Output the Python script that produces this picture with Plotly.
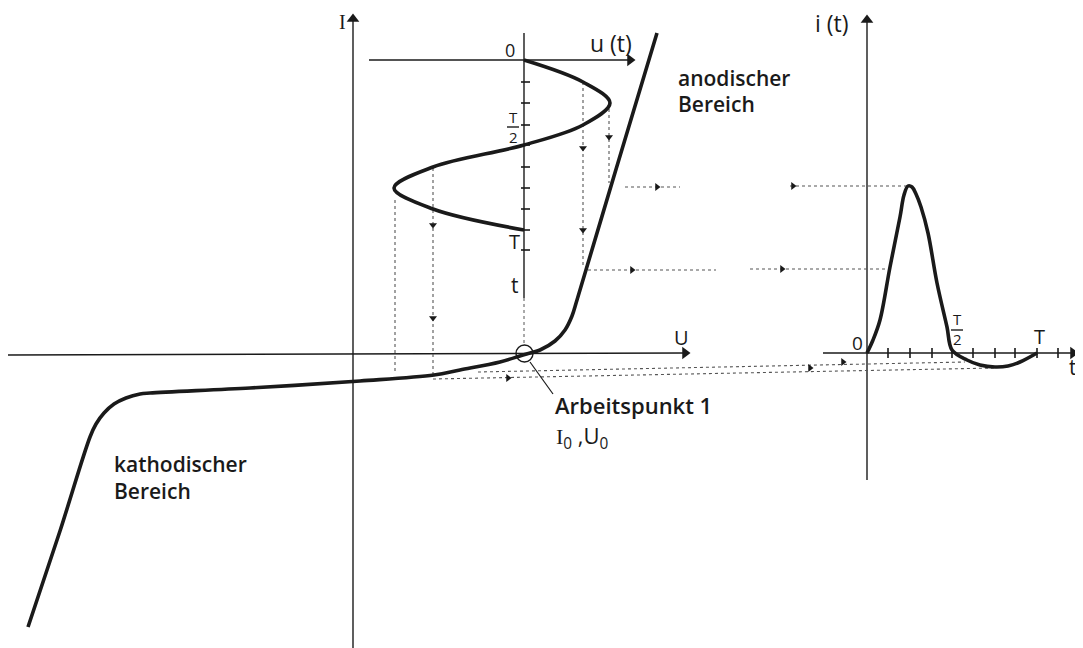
import plotly.graph_objects as go

# ---------------- data (drawing units = pixels) ----------
# current-voltage characteristic  I(U)
char_u = [28, 60, 90, 96, 104, 114, 126, 140, 150, 250, 360, 434, 460, 500, 523,
          540, 555, 565, 572, 577, 617, 657]
char_i = [627, 531, 437, 424, 413, 404, 398, 394, 393, 388, 381, 375, 370, 362, 355,
          350, 341, 330, 316, 300, 166, 33]

# applied voltage u(t) (drawn with time running downwards)
sine_u = [524, 583, 610, 583, 524, 433, 394, 433, 524]
sine_t = [60, 82, 103, 125, 145, 167, 188, 209, 230]

# resulting current i(t)
it_t = [867, 873, 880, 890, 900, 904, 908, 912, 916, 921, 928, 937, 947, 952, 967, 980, 995, 1008, 1020, 1037]
it_i = [353, 340, 320, 267, 217, 195, 186, 187, 194, 207, 233, 283, 327, 350, 360, 365, 367, 366, 362, 353]

# tick positions on the two time axes
ut_ticks = [82, 103, 125, 145, 167, 188, 209, 230, 250]
it_ticks = [888, 910, 932, 952, 973, 995, 1015, 1037, 1058]

INK = "#1a1a1a"
DOT = "#555555"
FONT = "Open Sans"

fig = go.Figure()


def line(xs, ys, width=1.4, color=INK, dash=None, shape="linear"):
    fig.add_trace(go.Scatter(x=xs, y=ys, mode="lines", hoverinfo="skip",
                             line=dict(color=color, width=width, dash=dash, shape=shape)))


# main axes
line([8, 686], [355, 353])
line([353, 353], [648, 18])
# u(t) axes
line([369, 630], [60, 60])
line([524, 524], [33, 298])
line([524, 524], [298, 346], width=1, color=DOT, dash="dot")
# i(t) axes
line([823, 1073], [353, 353])
line([867, 867], [480, 20])

# ticks
tx, ty = [], []
for v in ut_ticks:
    tx += [521, 530, None]
    ty += [v, v, None]
line(tx, ty, width=1.6)
tx, ty = [], []
for v in it_ticks:
    tx += [v, v, None]
    ty += [348, 358, None]
line(tx, ty, width=1.6)

# dotted construction lines
dots = [
    ([609, 609], [103, 183]),
    ([583, 583], [82, 267]),
    ([433, 433], [168, 375]),
    ([395, 395], [200, 372]),
    ([625, 680], [187, 187]),
    ([790, 908], [186, 186]),
    ([588, 716], [270, 270]),
    ([750, 885], [269, 269]),
    ([478, 965], [372, 362]),
    ([433, 995], [379, 368]),
]
for xs, ys in dots:
    line(xs, ys, width=1.1, color=DOT, dash="dot")

# main curves
line(char_u, char_i, width=3.6, shape="spline")
line(sine_u, sine_t, width=3.6, shape="spline")
line(it_t, it_i, width=3.6, shape="spline")

# small arrow heads on dotted lines
down_x = [609, 583, 583, 433, 433]
down_y = [137, 148, 230, 225, 318]
right_x = [657, 793, 632, 782, 508, 843, 810]
right_y = [187, 186, 270, 269, 378, 362, 368]
fig.add_trace(go.Scatter(x=down_x, y=down_y, mode="markers", hoverinfo="skip",
                         marker=dict(symbol="triangle-down", size=7, color=INK)))
fig.add_trace(go.Scatter(x=right_x, y=right_y, mode="markers", hoverinfo="skip",
                         marker=dict(symbol="triangle-right", size=7, color=INK)))

# axis arrow heads
fig.add_trace(go.Scatter(x=[353, 867], y=[19, 20], mode="markers", hoverinfo="skip",
                         marker=dict(symbol="triangle-up", size=11, color=INK)))
fig.add_trace(go.Scatter(x=[685, 630, 1073], y=[353, 60, 353], mode="markers", hoverinfo="skip",
                         marker=dict(symbol="triangle-right", size=11, color=INK)))

# working point circle and leader
fig.add_shape(type="circle", x0=516, x1=533, y0=345, y1=362,
              line=dict(color=INK, width=1.4))
line([530, 553], [362, 394], width=1.2)

# fraction bars
line([507, 519], [127, 127], width=1.4)
line([951, 963], [330, 330], width=1.4)


def txt(x, y, s, size=20, xanchor="center", weight=400, family=FONT):
    fig.add_annotation(x=x, y=y, text=s, showarrow=False, xanchor=xanchor, yanchor="middle",
                       font=dict(family=family, size=size, color=INK, weight=weight))


txt(342, 22, "I", family="Liberation Serif", size=20)
txt(510, 50, "0", size=18)
txt(611, 43, "u (t)", size=23)
txt(513, 117, "T", size=15)
txt(513, 137, "2", size=15)
txt(514, 241, "T", size=20)
txt(515, 285, "t", size=21)
txt(681, 337, "U", size=20)
txt(676, 78, "anodischer", xanchor="left", weight=600, size=21)
txt(676, 104, "Bereich", xanchor="left", weight=600, size=21)
txt(112, 464, "kathodischer", xanchor="left", weight=600, size=21)
txt(112, 491, "Bereich", xanchor="left", weight=600, size=21)
txt(553, 405, "Arbeitspunkt 1", xanchor="left", weight=600, size=22)
txt(554, 437, "<span style='font-family:Liberation Serif'>I</span><sub>0</sub> ,U<sub>0</sub>",
    xanchor="left", size=22)
txt(832, 23, "i (t)", size=23)
txt(857, 343, "0", size=19)
txt(957, 319, "T", size=15)
txt(957, 339, "2", size=15)
txt(1039, 336, "T", size=20)
txt(1073, 367, "t", size=21)

fig.update_layout(
    width=1075, height=640,
    margin=dict(l=0, r=0, t=0, b=0),
    paper_bgcolor="white", plot_bgcolor="white",
    showlegend=False,
    xaxis=dict(range=[8, 1083], visible=False, fixedrange=True),
    yaxis=dict(range=[648, 8], visible=False, fixedrange=True),
)

fig.write_html("out.html")
